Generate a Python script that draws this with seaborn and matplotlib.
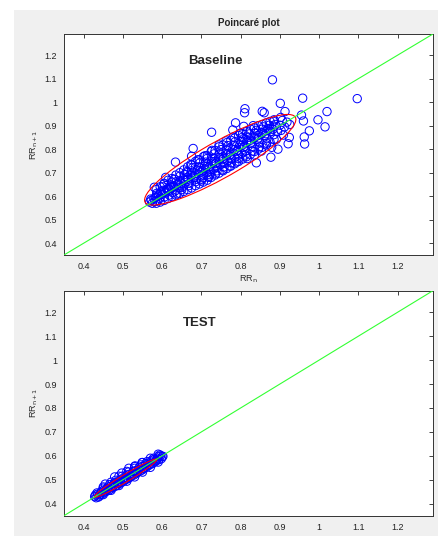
import matplotlib
matplotlib.use("Agg")
import matplotlib.pyplot as plt
from matplotlib.patches import Ellipse, Rectangle
import seaborn as sns

# Baseline RR intervals (s): RR_n and RR_n+1
base_rr_n = [
    0.568, 0.572, 0.575, 0.579, 0.571, 0.582,
    0.584, 0.588, 0.591, 0.586, 0.594, 0.597,
    0.600, 0.603, 0.606, 0.601, 0.609, 0.612, 0.605,
    0.615, 0.618, 0.621, 0.624, 0.617, 0.627, 0.622,
    0.630, 0.633, 0.636, 0.639, 0.631, 0.642, 0.645, 0.638,
    0.648, 0.651, 0.654, 0.657, 0.650, 0.660, 0.663, 0.656,
    0.666, 0.669, 0.672, 0.675, 0.668, 0.678, 0.681, 0.673, 0.664,
    0.684, 0.687, 0.690, 0.693, 0.686, 0.696, 0.699, 0.691, 0.682,
    0.702, 0.705, 0.708, 0.711, 0.704, 0.714, 0.717, 0.709, 0.700, 0.713,
    0.720, 0.723, 0.726, 0.729, 0.722, 0.732, 0.735, 0.727, 0.718, 0.731,
    0.738, 0.741, 0.744, 0.747, 0.740, 0.750, 0.753, 0.745, 0.736, 0.749,
    0.756, 0.759, 0.762, 0.765, 0.758, 0.768, 0.771, 0.763, 0.754, 0.767,
    0.774, 0.777, 0.780, 0.783, 0.776, 0.786, 0.789, 0.781, 0.772, 0.785,
    0.792, 0.795, 0.798, 0.801, 0.794, 0.804, 0.807, 0.799, 0.790, 0.803,
    0.810, 0.813, 0.816, 0.819, 0.812, 0.822, 0.825, 0.817, 0.808,
    0.828, 0.831, 0.834, 0.837, 0.830, 0.840, 0.843, 0.835,
    0.846, 0.849, 0.852, 0.855, 0.848, 0.858, 0.861, 0.853,
    0.864, 0.867, 0.870, 0.873, 0.866, 0.876, 0.879,
    0.882, 0.885, 0.888, 0.891, 0.884, 0.894,
    0.900, 0.903, 0.906, 0.909, 0.902, 0.912, 0.918, 0.925,
    # scattered beats
    0.881, 1.097, 0.958, 0.901, 1.020, 0.997, 1.015, 0.975, 0.960, 0.955,
    0.962, 0.963, 0.921, 0.924, 0.913, 0.811, 0.855, 0.860, 0.810, 0.787,
    0.832, 0.808, 0.780, 0.726, 0.679, 0.634, 0.609, 0.580, 0.877, 0.840,
    0.895, 0.675, 0.700, 0.720,
]
base_rr_next = [
    0.575, 0.582, 0.570, 0.590, 0.588, 0.578,
    0.595, 0.583, 0.604, 0.612, 0.590, 0.618,
    0.608, 0.625, 0.597, 0.640, 0.615, 0.630, 0.652,
    0.622, 0.605, 0.640, 0.660, 0.632, 0.615, 0.648,
    0.640, 0.622, 0.662, 0.650, 0.672, 0.636, 0.685, 0.610,
    0.655, 0.638, 0.675, 0.692, 0.628, 0.668, 0.705, 0.648,
    0.672, 0.655, 0.690, 0.708, 0.645, 0.722, 0.685, 0.735, 0.700,
    0.690, 0.672, 0.712, 0.725, 0.662, 0.742, 0.702, 0.755, 0.680,
    0.708, 0.688, 0.728, 0.745, 0.678, 0.760, 0.720, 0.772, 0.665, 0.700,
    0.725, 0.705, 0.748, 0.762, 0.692, 0.780, 0.738, 0.795, 0.680, 0.715,
    0.742, 0.722, 0.765, 0.780, 0.708, 0.798, 0.755, 0.818, 0.695, 0.735,
    0.760, 0.740, 0.782, 0.798, 0.725, 0.815, 0.772, 0.835, 0.712, 0.750,
    0.778, 0.758, 0.800, 0.815, 0.742, 0.832, 0.790, 0.852, 0.728, 0.765,
    0.795, 0.775, 0.818, 0.832, 0.760, 0.850, 0.808, 0.868, 0.745, 0.782,
    0.812, 0.792, 0.835, 0.850, 0.775, 0.865, 0.825, 0.760, 0.845,
    0.830, 0.810, 0.852, 0.868, 0.792, 0.880, 0.842, 0.775,
    0.848, 0.828, 0.870, 0.885, 0.810, 0.895, 0.858, 0.792,
    0.866, 0.845, 0.888, 0.902, 0.825, 0.875, 0.808,
    0.884, 0.862, 0.905, 0.842, 0.918, 0.875,
    0.902, 0.880, 0.922, 0.860, 0.935, 0.895, 0.915, 0.905,
    # scattered beats
    1.095, 1.015, 1.017, 0.995, 0.960, 0.925, 0.895, 0.878, 0.920, 0.945,
    0.852, 0.822, 0.823, 0.850, 0.960, 0.972, 0.961, 0.955, 0.955, 0.912,
    0.900, 0.897, 0.882, 0.872, 0.803, 0.745, 0.680, 0.638, 0.766, 0.742,
    0.800, 0.770, 0.672, 0.685,
]

# more baseline beats filling the wide band of the cloud
band_rr_n = [
    0.585, 0.595, 0.605, 0.615, 0.625, 0.635, 0.645, 0.655, 0.665, 0.675,
    0.685, 0.695, 0.705, 0.715, 0.725, 0.735, 0.745, 0.755, 0.765, 0.775,
    0.785, 0.795, 0.805, 0.815, 0.825, 0.835, 0.845, 0.855, 0.865, 0.875,
    0.885,
]
band_upper = [
    0.628, 0.640, 0.655, 0.668, 0.675, 0.690, 0.700, 0.712, 0.725, 0.732,
    0.748, 0.755, 0.768, 0.772, 0.790, 0.795, 0.810, 0.818, 0.828, 0.838,
    0.848, 0.858, 0.866, 0.875, 0.885, 0.890, 0.900, 0.905, 0.912, 0.918,
    0.925,
]
band_lower = [
    0.570, 0.575, 0.582, 0.590, 0.598, 0.605, 0.612, 0.620, 0.628, 0.635,
    0.645, 0.652, 0.660, 0.668, 0.680, 0.690, 0.698, 0.708, 0.718, 0.728,
    0.738, 0.748, 0.758, 0.768, 0.778, 0.790, 0.800, 0.808, 0.818, 0.830,
    0.842,
]
band_middle = [
    0.598, 0.610, 0.618, 0.630, 0.640, 0.648, 0.660, 0.668, 0.680, 0.688,
    0.698, 0.708, 0.718, 0.728, 0.738, 0.748, 0.758, 0.768, 0.778, 0.788,
    0.798, 0.808, 0.818, 0.828, 0.838, 0.848, 0.858, 0.868, 0.878, 0.888,
    0.898,
]

# TEST RR intervals (s)
test_rr_n = [
    0.428, 0.432, 0.436, 0.430, 0.440, 0.434, 0.438,
    0.444, 0.448, 0.452, 0.446, 0.456, 0.450, 0.442, 0.454,
    0.460, 0.464, 0.468, 0.462, 0.472, 0.466, 0.458, 0.470, 0.455,
    0.476, 0.480, 0.484, 0.478, 0.488, 0.482, 0.474, 0.486, 0.479,
    0.492, 0.496, 0.500, 0.494, 0.504, 0.498, 0.490, 0.502, 0.497,
    0.508, 0.512, 0.516, 0.510, 0.520, 0.514, 0.506, 0.518, 0.515,
    0.524, 0.528, 0.532, 0.526, 0.536, 0.530, 0.522, 0.534, 0.531,
    0.540, 0.544, 0.548, 0.542, 0.552, 0.546, 0.538, 0.550, 0.549,
    0.556, 0.560, 0.564, 0.558, 0.568, 0.562, 0.554, 0.566,
    0.572, 0.576, 0.580, 0.574, 0.584, 0.578, 0.570, 0.582,
    0.588, 0.592, 0.596, 0.590, 0.600, 0.594, 0.586, 0.598, 0.602,
    0.450, 0.470, 0.490, 0.510, 0.530, 0.550, 0.570, 0.590,
    0.450, 0.470, 0.490, 0.510, 0.530, 0.550, 0.570, 0.590,
]
test_rr_next = [
    0.430, 0.425, 0.440, 0.436, 0.432, 0.445, 0.428,
    0.446, 0.440, 0.458, 0.452, 0.455, 0.465, 0.438, 0.448,
    0.462, 0.456, 0.472, 0.470, 0.470, 0.480, 0.452, 0.462, 0.482,
    0.478, 0.472, 0.490, 0.486, 0.485, 0.498, 0.468, 0.478, 0.512,
    0.494, 0.488, 0.505, 0.502, 0.500, 0.515, 0.484, 0.494, 0.528,
    0.510, 0.504, 0.522, 0.520, 0.515, 0.532, 0.500, 0.510, 0.548,
    0.526, 0.520, 0.538, 0.535, 0.532, 0.548, 0.516, 0.526, 0.558,
    0.542, 0.536, 0.555, 0.552, 0.548, 0.562, 0.532, 0.542, 0.572,
    0.558, 0.552, 0.570, 0.568, 0.564, 0.576, 0.548, 0.560,
    0.574, 0.568, 0.585, 0.582, 0.580, 0.590, 0.565, 0.575,
    0.590, 0.584, 0.600, 0.598, 0.596, 0.604, 0.582, 0.588, 0.598,
    0.470, 0.490, 0.515, 0.535, 0.555, 0.572, 0.590, 0.607,
    0.438, 0.456, 0.476, 0.494, 0.512, 0.532, 0.552, 0.574,
]

# SD1/SD2 ellipses: centre, width (2*SD2), height (2*SD1)
base_ellipse = (0.748, 0.755, 0.530, 0.128)
test_ellipse = (0.507, 0.507, 0.224, 0.026)

ticks = [0.4, 0.5, 0.6, 0.7, 0.8, 0.9, 1, 1.1, 1.2]
tick_labels = ["0.4", "0.5", "0.6", "0.7", "0.8", "0.9", "1", "1.1", "1.2"]
lims = (0.35, 1.29)

sns.set_style("white")
plt.rcParams["font.family"] = ["Liberation Sans", "DejaVu Sans"]

fig = plt.figure(figsize=(4.39, 5.36), dpi=100, facecolor="white")
# grey MATLAB-style figure window
fig.patches.append(Rectangle((14 / 439, 0), 1, 1 - 10 / 536, transform=fig.transFigure,
                             facecolor="#f0f0f0", edgecolor="none", zorder=-1))

ax1 = fig.add_axes([0.1458, 0.5243, 0.8405, 0.4123])
ax2 = fig.add_axes([0.1458, 0.0379, 0.8405, 0.4198])

base_x = base_rr_n + band_rr_n * 3
base_y = base_rr_next + band_upper + band_lower + band_middle

panels = [
    (ax1, base_x, base_y, base_ellipse, "Baseline", 0.665, 1.175),
    (ax2, test_rr_n, test_rr_next, test_ellipse, "TEST", 0.654, 1.156),
]

for ax, xs, ys, ell, name, tx, ty in panels:
    ax.set_facecolor("white")
    sns.scatterplot(x=xs, y=ys, ax=ax, marker="o", s=36, facecolors="none",
                    edgecolor="#0000ff", linewidth=0.7, zorder=2)
    ax.add_patch(Ellipse((ell[0], ell[1]), ell[2], ell[3], angle=45,
                         fill=False, edgecolor="red", linewidth=0.8, zorder=3))
    ax.plot(lims, lims, color="#33ff33", linewidth=0.8, zorder=4)
    ax.text(tx, ty, name, fontsize=9.5, fontweight="bold", va="center", ha="left")
    ax.set_xlim(lims)
    ax.set_ylim(lims)
    ax.set_xticks(ticks)
    ax.set_xticklabels(tick_labels)
    ax.set_yticks(ticks)
    ax.set_yticklabels(tick_labels)
    ax.tick_params(direction="in", length=3, width=0.6, labelsize=6.5,
                   top=True, right=True, colors="#222222", pad=5)
    for sp in ax.spines.values():
        sp.set_visible(True)
        sp.set_color("#333333")
        sp.set_linewidth(0.7)
    ax.set_xlabel(r"RR$_\mathrm{n}$", fontsize=6.5, labelpad=2)
    ax.set_ylabel(r"RR$_\mathrm{n+1}$", fontsize=6.5, labelpad=3)

ax1.set_title("Poincaré plot", fontsize=7, fontweight="bold", pad=6)

fig.savefig("out.png", dpi=100, facecolor=fig.get_facecolor())
